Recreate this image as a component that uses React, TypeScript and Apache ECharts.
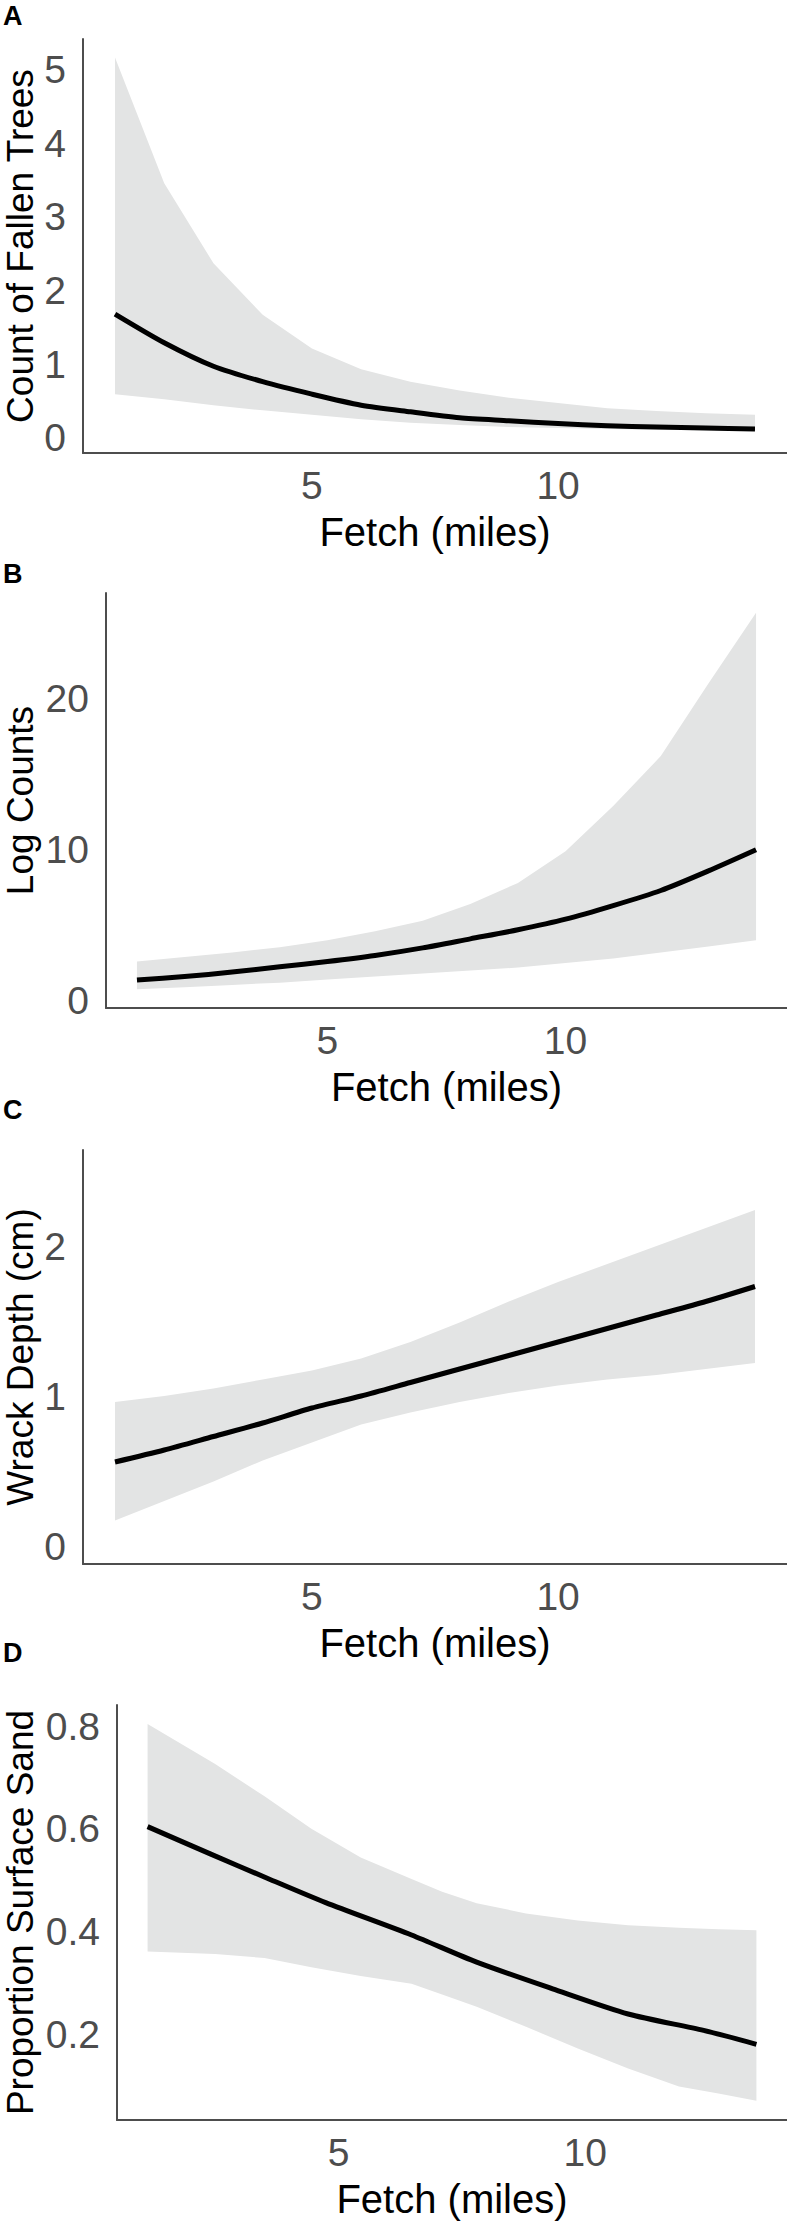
import React, { useEffect, useRef } from "react";
import * as echarts from "echarts";

// ---------- data ----------
const fetchABC = [1, 2, 3, 4, 5, 6, 7, 8, 9, 10, 11, 12, 13, 14];

// Panel A: Count of Fallen Trees
const treesUpper = [5.17, 3.46, 2.37, 1.67, 1.21, 0.93, 0.76, 0.64, 0.54, 0.47, 0.4, 0.36, 0.33, 0.31];
const treesMean = [1.68, 1.29, 0.97, 0.76, 0.59, 0.44, 0.35, 0.27, 0.23, 0.19, 0.16, 0.145, 0.13, 0.115];
const treesLower = [0.59, 0.52, 0.44, 0.37, 0.31, 0.25, 0.2, 0.17, 0.145, 0.13, 0.116, 0.106, 0.1, 0.097];

// Panel B: Log Counts
const logUpper = [2.6, 2.9, 3.2, 3.55, 4.0, 4.6, 5.3, 6.4, 7.8, 9.9, 12.9, 16.2, 21.0, 25.7];
const logMean = [1.37, 1.6, 1.9, 2.25, 2.6, 3.0, 3.5, 4.1, 4.7, 5.4, 6.3, 7.3, 8.6, 10.0];
const logLower = [0.76, 0.9, 1.05, 1.2, 1.4, 1.6, 1.8, 2.0, 2.2, 2.5, 2.8, 3.2, 3.6, 4.0];

// Panel C: Wrack Depth (cm)
const wrackUpper = [0.96, 1.0, 1.05, 1.11, 1.17, 1.25, 1.36, 1.49, 1.63, 1.76, 1.88, 2.0, 2.12, 2.24];
const wrackMean = [0.56, 0.64, 0.73, 0.82, 0.92, 1.0, 1.09, 1.18, 1.27, 1.36, 1.45, 1.54, 1.63, 1.73];
const wrackLower = [0.17, 0.3, 0.43, 0.57, 0.69, 0.81, 0.89, 0.96, 1.02, 1.07, 1.11, 1.14, 1.18, 1.22];

// Panel D: Proportion Surface Sand
const sandBandFetch = [1.13, 2.5, 3.5, 4.45, 5.45, 6.48, 7.1, 7.8, 8.8, 9.85, 10.87, 11.9, 12.7, 13.47];
const sandUpper = [0.804, 0.726, 0.663, 0.6, 0.544, 0.502, 0.477, 0.455, 0.435, 0.421, 0.412, 0.407, 0.404, 0.402];
const sandLower = [0.361, 0.356, 0.348, 0.33, 0.313, 0.298, 0.277, 0.253, 0.214, 0.172, 0.133, 0.098, 0.084, 0.07];
const sandLineFetch = [1.13, 2.4, 3.52, 4.74, 6.48, 7.8, 9.34, 10.87, 12.4, 13.47];
const sandMean = [0.604, 0.551, 0.505, 0.456, 0.393, 0.34, 0.288, 0.239, 0.207, 0.18];

// tick labels
const xTicks = [5, 10];
const yTicksA = [0, 1, 2, 3, 4, 5];
const yTicksB = [0, 10, 20];
const yTicksC = [0, 1, 2];
const yTicksD = [0.2, 0.4, 0.6, 0.8];

const panelLetters = ["A", "B", "C", "D"];
const yTitles = ["Count of Fallen Trees", "Log Counts", "Wrack Depth (cm)", "Proportion Surface Sand"];
const xTitle = "Fetch (miles)";

// ---------- styling ----------
const FONT = '"Liberation Sans", Arial, Helvetica, sans-serif';
const BAND = "#e3e4e4";
const AXIS = "#4d4d4d";
const TICK = "#4d4d4d";

const W = 787;
const H = 2223;

const grids = [
  { left: 83, top: 39, width: 704, height: 414 },
  { left: 106, top: 593, width: 681, height: 415 },
  { left: 83, top: 1150, width: 704, height: 414 },
  { left: 117, top: 1705, width: 670, height: 415 },
];
const xRanges = [
  [0.35, 14.65],
  [0.35, 14.65],
  [0.35, 14.65],
  [0.51, 14.09],
];
const yRanges = [
  [-0.21, 5.42],
  [-0.48, 27.0],
  [-0.12, 2.64],
  [0.0325, 0.841],
];
const yTickSets = [yTicksA, yTicksB, yTicksC, yTicksD];
const letterY = [16, 574, 1110, 1653];
const yTitleX = 20;

function bandSeries(gi: number, xs: number[], lo: number[], hi: number[]) {
  return {
    type: "custom",
    xAxisIndex: gi,
    yAxisIndex: gi,
    silent: true,
    z: 1,
    encode: { x: 0, y: [1, 2] },
    data: xs.map((x, i) => [x, lo[i], hi[i]]),
    renderItem: (params: any, api: any) => {
      if (params.dataIndex !== 0) return null;
      const pts: number[][] = [];
      for (let i = 0; i < xs.length; i++) pts.push(api.coord([xs[i], hi[i]]));
      for (let i = xs.length - 1; i >= 0; i--) pts.push(api.coord([xs[i], lo[i]]));
      return { type: "polygon", shape: { points: pts }, style: { fill: BAND } };
    },
  };
}

function lineSeries(gi: number, xs: number[], ys: number[]) {
  return {
    type: "line",
    xAxisIndex: gi,
    yAxisIndex: gi,
    z: 3,
    showSymbol: false,
    symbol: "none",
    silent: true,
    smooth: 0.25,
    data: xs.map((x, i) => [x, ys[i]]),
    lineStyle: { color: "#000000", width: 5, cap: "butt", join: "round" },
  };
}

function App() {
  const ref = useRef<HTMLDivElement>(null);

  useEffect(() => {
    if (!ref.current) return;
    const chart = echarts.init(ref.current, undefined, { renderer: "svg" });

    const xAxis = grids.map((_, i) => ({
      type: "value",
      gridIndex: i,
      min: xRanges[i][0],
      max: xRanges[i][1],
      axisLine: { show: true, onZero: false, lineStyle: { color: AXIS, width: 2 } },
      axisTick: { show: false },
      splitLine: { show: false },
      axisLabel: {
        customValues: xTicks,
        fontSize: 39,
        color: TICK,
        fontFamily: FONT,
        margin: 12.5,
      },
      name: xTitle,
      nameLocation: "middle",
      nameGap: 59,
      nameMoveOverlap: false,
      nameTextStyle: { fontSize: 40, color: "#000", fontFamily: FONT },
    }));

    const yAxis = grids.map((g, i) => ({
      type: "value",
      gridIndex: i,
      min: yRanges[i][0],
      max: yRanges[i][1],
      axisLine: { show: true, onZero: false, lineStyle: { color: AXIS, width: 2 } },
      axisTick: { show: false },
      splitLine: { show: false },
      axisLabel: {
        customValues: yTickSets[i],
        fontSize: 39,
        color: TICK,
        fontFamily: FONT,
        margin: 17,
        formatter: (v: number) => (i === 3 ? v.toFixed(1) : String(v)),
      },
    }));

    const series = [
      bandSeries(0, fetchABC, treesLower, treesUpper),
      lineSeries(0, fetchABC, treesMean),
      bandSeries(1, fetchABC, logLower, logUpper),
      lineSeries(1, fetchABC, logMean),
      bandSeries(2, fetchABC, wrackLower, wrackUpper),
      lineSeries(2, fetchABC, wrackMean),
      bandSeries(3, sandBandFetch, sandLower, sandUpper),
      lineSeries(3, sandLineFetch, sandMean),
    ];

    const letters = panelLetters.map((l, i) => ({
      type: "text",
      left: 3,
      top: letterY[i] - 14,
      style: {
        text: l,
        fontSize: 27,
        fontWeight: "bold",
        fontFamily: FONT,
        fill: "#000",
      },
    }));

    const titles = yTitles.map((t, i) => ({
      type: "text",
      x: yTitleX,
      y: grids[i].top + grids[i].height / 2,
      rotation: Math.PI / 2,
      style: {
        text: t,
        fontSize: 37,
        fontFamily: FONT,
        fill: "#000",
        align: "center",
        verticalAlign: "middle",
        textAlign: "center",
        textVerticalAlign: "middle",
      },
    }));

    chart.setOption({
      animation: false,
      backgroundColor: "#ffffff",
      grid: grids.map((g) => ({ ...g, containLabel: false, outerBoundsMode: "none" })),
      xAxis,
      yAxis,
      series,
      graphic: [...letters, ...titles],
    });

    return () => chart.dispose();
  }, []);

  return (
    <div
      ref={ref}
      style={{ position: "absolute", left: 0, top: 0, width: W, height: H, background: "#fff" }}
    />
  );
}

export default App;
